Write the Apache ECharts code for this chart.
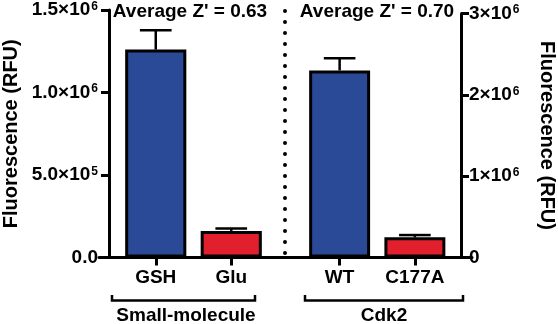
<!DOCTYPE html>
<html>
<head>
<meta charset="utf-8">
<script src="https://cdn.jsdelivr.net/npm/echarts@6/dist/echarts.min.js"></script>
<style>
  html, body { margin: 0; padding: 0; background: #fff; }
  #chart { width: 558px; height: 324px; }
</style>
</head>
<body>
<div id="chart"></div>
<script>
// Fluorescence readout: small-molecule thiols (left axis) and Cdk2 variants (right axis)
const leftCategories = ['GSH', 'Glu'];
const leftMeans = [1260000, 161000];
const leftErrors = [117000, 15000];

const rightCategories = ['WT', 'C177A'];
const rightMeans = [2300000, 248000];
const rightErrors = [150000, 28000];

const groupNames = ['Small-molecule', 'Cdk2'];
const zPrimeLabels = ["Average Z' = 0.63", "Average Z' = 0.70"];
const axisTitle = 'Fluorescence (RFU)';

// tick labels as [mantissa, exponent]
const leftTicks = [['0.0', ''], ['5.0×10', '5'], ['1.0×10', '6'], ['1.5×10', '6']];
const rightTicks = [['0', ''], ['1×10', '6'], ['2×10', '6'], ['3×10', '6']];

const barColors = ['#2a4a98', '#e21f2d'];
const FONT = '"Liberation Sans", Arial, Helvetica, sans-serif';

const tickRich = {
  b: { fontSize: 19, fontWeight: 'bold', fontFamily: FONT, color: '#000' },
  s: { fontSize: 12, fontWeight: 'bold', fontFamily: FONT, color: '#000', verticalAlign: 'top', padding: [0, 0, 0, 1] }
};

function tickFormatter(ticks, step) {
  return function (value) {
    const t = ticks[Math.round(value / step)];
    if (!t) return '';
    return t[1] ? '{b|' + t[0] + '}{s|' + t[1] + '}' : '{b|' + t[0] + '}';
  };
}

function errorBarRenderer(params, api) {
  const x = api.value(0);
  const base = api.coord([x, api.value(1)]);
  const top = api.coord([x, api.value(2)]);
  const half = api.size([1, 0])[0] * 0.21;
  const style = { stroke: '#000', lineWidth: 2.5 };
  return {
    type: 'group',
    children: [
      { type: 'line', shape: { x1: base[0], y1: base[1], x2: top[0], y2: top[1] }, style: style },
      { type: 'line', shape: { x1: top[0] - half, y1: top[1], x2: top[0] + half, y2: top[1] }, style: style }
    ]
  };
}

function barData(values) {
  return values.map((v, i) => ({ value: v, itemStyle: { color: barColors[i] } }));
}

const categoryAxisCommon = {
  type: 'category',
  axisLine: { show: false },
  axisTick: { show: true, alignWithLabel: true, length: 8, lineStyle: { color: '#000', width: 3 } },
  axisLabel: { interval: 0, hideOverlap: false, fontSize: 19, fontWeight: 'bold', fontFamily: FONT, color: '#000', margin: 11 }
};

const valueAxisCommon = {
  type: 'value',
  min: 0,
  splitLine: { show: false },
  axisLine: { show: true, lineStyle: { color: '#000', width: 3 } },
  axisTick: { show: true, inside: false, length: 8, lineStyle: { color: '#000', width: 3 } },
  nameLocation: 'middle',
  nameTextStyle: { fontSize: 20, fontWeight: 'bold', fontFamily: FONT, color: '#000' }
};

const chart = echarts.init(document.getElementById('chart'), null, { renderer: 'canvas' });

chart.setOption({
  animation: false,
  backgroundColor: '#fff',
  grid: [
    { left: 108, width: 161, top: 10, height: 247.5 },
    { left: 302, width: 161.5, top: 13.5, height: 244 },
    { left: 99, width: 373, top: 10, height: 247.5 }
  ],
  xAxis: [
    Object.assign({ gridIndex: 0, data: leftCategories }, categoryAxisCommon),
    Object.assign({ gridIndex: 1, data: rightCategories }, categoryAxisCommon),
    {
      gridIndex: 2, type: 'value', min: 0, max: 1,
      axisLine: { show: true, lineStyle: { color: '#000', width: 3 } },
      axisTick: { show: false }, axisLabel: { show: false }, splitLine: { show: false }
    }
  ],
  yAxis: [
    Object.assign({}, valueAxisCommon, {
      gridIndex: 0, position: 'left', offset: 9,
      max: 1500000, interval: 500000,
      name: axisTitle, nameGap: 88, nameRotate: 90,
      axisLabel: { margin: 11, formatter: tickFormatter(leftTicks, 500000), rich: tickRich }
    }),
    Object.assign({}, valueAxisCommon, {
      gridIndex: 1, position: 'right', offset: 8.5,
      max: 3000000, interval: 1000000,
      name: axisTitle, nameGap: 76, nameRotate: -90,
      axisLabel: { margin: 8, formatter: tickFormatter(rightTicks, 1000000), rich: tickRich }
    }),
    { gridIndex: 2, type: 'value', show: false }
  ],
  series: [
    {
      type: 'custom', xAxisIndex: 0, yAxisIndex: 0, z: 1,
      data: leftMeans.map((m, i) => [i, m, m + leftErrors[i]]),
      renderItem: errorBarRenderer
    },
    {
      type: 'custom', xAxisIndex: 1, yAxisIndex: 1, z: 1,
      data: rightMeans.map((m, i) => [i, m, m + rightErrors[i]]),
      renderItem: errorBarRenderer
    },
    {
      type: 'bar', xAxisIndex: 0, yAxisIndex: 0, z: 2,
      barWidth: '81%',
      itemStyle: { borderColor: '#000', borderWidth: 3 },
      data: barData(leftMeans)
    },
    {
      type: 'bar', xAxisIndex: 1, yAxisIndex: 1, z: 2,
      barWidth: '81%',
      itemStyle: { borderColor: '#000', borderWidth: 3 },
      data: barData(rightMeans)
    }
  ],
  graphic: [
    // dotted divider between the two panels
    {
      type: 'line', z: 5,
      shape: { x1: 285, y1: 11, x2: 285, y2: 256 },
      style: { stroke: '#000', lineWidth: 4, lineDash: [0, 11], lineCap: 'round' }
    },
    // group brackets
    {
      type: 'polyline',
      shape: { points: [[112, 295], [112, 300.5], [255, 300.5], [255, 295]] },
      style: { stroke: '#000', lineWidth: 2.5, fill: null }
    },
    {
      type: 'polyline',
      shape: { points: [[305, 295], [305, 300.5], [463, 300.5], [463, 295]] },
      style: { stroke: '#000', lineWidth: 2.5, fill: null }
    },
    {
      type: 'text', x: 186, y: 316,
      style: { text: groupNames[0], font: 'bold 19px ' + FONT, fill: '#000', textAlign: 'center', textVerticalAlign: 'middle' }
    },
    {
      type: 'text', x: 384, y: 316,
      style: { text: groupNames[1], font: 'bold 19px ' + FONT, fill: '#000', textAlign: 'center', textVerticalAlign: 'middle' }
    },
    {
      type: 'text', x: 190, y: 12,
      style: { text: zPrimeLabels[0], font: 'bold 19px ' + FONT, fill: '#000', textAlign: 'center', textVerticalAlign: 'middle' }
    },
    {
      type: 'text', x: 377, y: 12,
      style: { text: zPrimeLabels[1], font: 'bold 19px ' + FONT, fill: '#000', textAlign: 'center', textVerticalAlign: 'middle' }
    }
  ]
});
</script>
</body>
</html>
